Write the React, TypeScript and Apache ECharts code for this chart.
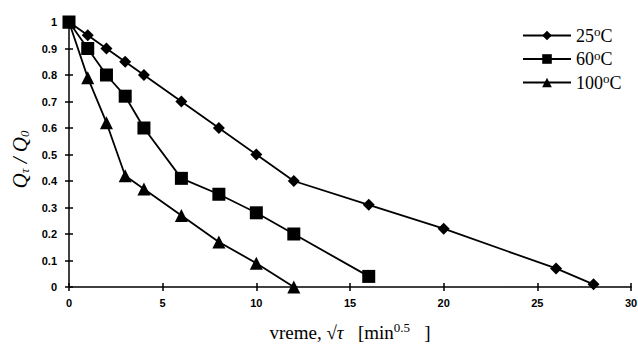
import React, { useEffect, useRef } from "react";
import * as echarts from "echarts";

const x25 = [0, 1, 2, 3, 4, 6, 8, 10, 12, 16, 20, 26, 28];
const y25 = [1, 0.95, 0.9, 0.85, 0.8, 0.7, 0.6, 0.5, 0.4, 0.31, 0.22, 0.07, 0.01];
const x60 = [0, 1, 2, 3, 4, 6, 8, 10, 12, 16];
const y60 = [1, 0.9, 0.8, 0.72, 0.6, 0.41, 0.35, 0.28, 0.2, 0.04];
const x100 = [0, 1, 2, 3, 4, 6, 8, 10, 12];
const y100 = [1, 0.79, 0.62, 0.42, 0.37, 0.27, 0.17, 0.09, 0.0];
const seriesNames = ["25", "60", "100"];

const zip = (xs: number[], ys: number[]) => xs.map((x, i) => [x, ys[i]]);

export default function App() {
  const ref = useRef<HTMLDivElement>(null);
  useEffect(() => {
    const chart = echarts.init(ref.current!, null, { renderer: "svg" });
    const serif = "Liberation Serif";
    const sans = "Liberation Sans";
    const axisCommon = {
      axisLine: { show: true, lineStyle: { color: "#000", width: 1.5 } },
      splitLine: { show: false },
    };
    const mk = (name: string, data: number[][], symbol: string, size: number) => ({
      name,
      type: "line",
      data,
      symbol,
      symbolSize: size,
      showAllSymbol: true,
      lineStyle: { color: "#000", width: 1.8 },
      itemStyle: { color: "#000" },
      xAxisIndex: 0,
      yAxisIndex: 0,
    });
    chart.setOption({
      animation: false,
      backgroundColor: "#fff",
      grid: { left: 69, right: 7, top: 22, bottom: 64, containLabel: false, outerBoundsMode: "none" },
      legend: {
        orient: "vertical",
        left: 517,
        top: 20,
        itemWidth: 48,
        itemHeight: 12,
        itemGap: 4,
        data: seriesNames,
        formatter: (n: string) => `${n}{sup|o}C`,
        textStyle: {
          fontFamily: serif,
          fontSize: 18,
          color: "#000",
          rich: {
            sup: { fontFamily: serif, fontSize: 13, verticalAlign: "top", padding: [0, 0, 8, 0], color: "#000" },
          },
        },
      },
      xAxis: [
        {
          ...axisCommon,
          type: "value",
          min: 0,
          max: 30,
          interval: 5,
          axisTick: { show: true, length: 4, lineStyle: { color: "#000", width: 1.5 } },
          axisLabel: { fontFamily: sans, fontWeight: "bold", fontSize: 11, color: "#000", margin: 10 },
          name: "vreme, √{it|τ}   [min{sup|0.5}   ]",
          nameLocation: "middle",
          nameGap: 34,
          nameTextStyle: {
            fontFamily: serif,
            fontSize: 19,
            color: "#000",
            rich: {
              it: { fontFamily: serif, fontStyle: "italic", fontSize: 19, color: "#000" },
              sup: { fontFamily: serif, fontSize: 13, verticalAlign: "top", padding: [0, 0, 10, 0], color: "#000" },
            },
          },
        },
        {
          type: "value",
          min: 0,
          max: 30,
          interval: 5,
          position: "bottom",
          axisLine: { show: false },
          axisTick: { show: true, inside: true, length: 4, lineStyle: { color: "#000", width: 1.5 } },
          axisLabel: { show: false },
          splitLine: { show: false },
        },
      ],
      yAxis: [
        {
          ...axisCommon,
          type: "value",
          min: 0,
          max: 1,
          interval: 0.1,
          axisTick: { show: true, length: 4, lineStyle: { color: "#000", width: 1.5 } },
          axisLabel: {
            fontFamily: sans,
            fontWeight: "bold",
            fontSize: 11,
            color: "#000",
            margin: 12,
            formatter: (v: number) => String(Math.round(v * 10) / 10),
          },
          name: "{i|Q}{s|τ}{n| / }{i|Q}{s|0}",
          nameLocation: "middle",
          nameGap: 28,
          nameRotate: 90,
          nameTextStyle: {
            color: "#000",
            padding: [0, 10, 0, 0],
            rich: {
              i: { fontFamily: serif, fontStyle: "italic", fontSize: 21, color: "#000" },
              n: { fontFamily: serif, fontStyle: "italic", fontSize: 21, color: "#000" },
              s: { fontFamily: serif, fontStyle: "italic", fontSize: 13, verticalAlign: "bottom", padding: [8, 0, 0, 0], color: "#000" },
            },
          },
        },
        {
          type: "value",
          min: 0,
          max: 1,
          interval: 0.1,
          position: "left",
          axisLine: { show: false },
          axisTick: { show: true, inside: true, length: 4, lineStyle: { color: "#000", width: 1.5 } },
          axisLabel: { show: false },
          splitLine: { show: false },
        },
      ],
      series: [
        mk(seriesNames[0], zip(x25, y25), "diamond", 12),
        mk(seriesNames[1], zip(x60, y60), "rect", 13),
        mk(seriesNames[2], zip(x100, y100), "triangle", 13),
      ],
    });
    return () => chart.dispose();
  }, []);
  return <div ref={ref} style={{ position: "absolute", left: 0, top: 0, width: 638, height: 351 }} />;
}
